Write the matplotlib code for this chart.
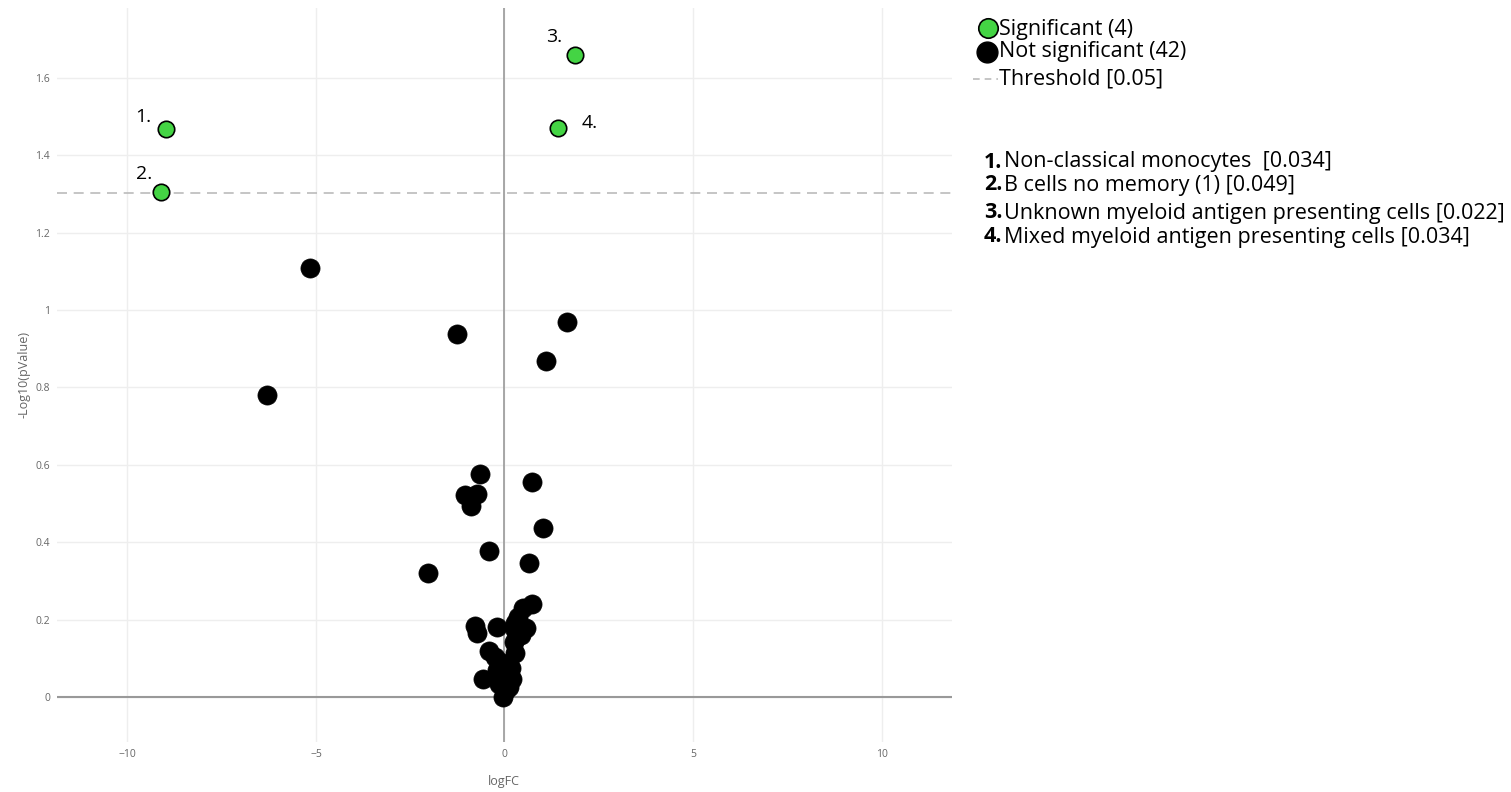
import numpy as np
import matplotlib
matplotlib.use("Agg")
import matplotlib.pyplot as plt
from matplotlib.lines import Line2D

plt.rcParams['font.family'] = ['Open Sans', 'DejaVu Sans']

# significant points (numbered)
sig_fc = [-8.97, -9.12, 1.88, 1.41]
sig_p = [1.468, 1.305, 1.659, 1.470]
sig_num = ['1.', '2.', '3.', '4.']
sig_names = ['Non-classical monocytes  [0.034]',
             'B cells no memory (1) [0.049]',
             'Unknown myeloid antigen presenting cells [0.022]',
             'Mixed myeloid antigen presenting cells [0.034]']
# label offsets in px (dx, dy up)
label_off = [(-23, 12), (-17, 18), (-21, 18), (32, 5)]

# not significant points
ns_fc = [-5.15, -6.31, -1.25, 1.67, 1.11, -0.64, -1.06, -0.72, -0.90, 0.72,
         1.01, -0.42, 0.66, -2.04, 0.74, 0.50, 0.37, -0.77, -0.74, -0.19,
         0.56, 0.29, 0.29, 0.24, 0.29, -0.40, -0.24, -0.11, 0.16, -0.06,
         -0.19, -0.56, 0.20, 0.03, -0.03, 0.03, -0.03, -0.11, 0.45, 0.05,
         -0.15, 0.12]
ns_p = [1.109, 0.780, 0.938, 0.969, 0.868, 0.576, 0.522, 0.525, 0.494, 0.556,
        0.437, 0.377, 0.346, 0.320, 0.240, 0.230, 0.207, 0.183, 0.165, 0.182,
        0.178, 0.192, 0.173, 0.143, 0.113, 0.119, 0.103, 0.090, 0.075, 0.070,
        0.070, 0.047, 0.047, 0.052, 0.031, 0.018, 0.001, 0.044, 0.160, 0.060,
        0.035, 0.025]

threshold = -np.log10(0.05)
green = '#44d444'
W, H = 1511, 792


def fx(px):
    return px / W


def fy(py):
    return 1 - py / H


fig = plt.figure(figsize=(15.11, 7.92), dpi=100)
ax = fig.add_axes([fx(57), fy(742), (952 - 57) / W, (742 - 8) / H])

ax.set_xlim(-11.87, 11.87)
ax.set_ylim(-0.116, 1.78)
ax.set_xticks([-10, -5, 0, 5, 10])
ax.set_xticklabels(['\u221210', '\u22125', '0', '5', '10'])
ax.set_yticks([0, 0.2, 0.4, 0.6, 0.8, 1, 1.2, 1.4, 1.6])
ax.set_yticklabels(['0', '0.2', '0.4', '0.6', '0.8', '1', '1.2', '1.4', '1.6'])
ax.grid(True, color='#eeeeee', linewidth=1)
ax.set_axisbelow(True)
for s in ax.spines.values():
    s.set_visible(False)
ax.tick_params(length=0, labelsize=7.5, labelcolor='#666666', pad=5)
ax.axhline(0, color='#999999', linewidth=1.5, zorder=1)
ax.axvline(0, color='#999999', linewidth=1.2, zorder=1)
ax.axhline(threshold, color='#bbbbbb', linewidth=1.2, dashes=(6, 4), zorder=1)

fig.text(fx(504), fy(781), 'logFC', fontsize=9, color='#666666', ha='center', va='center')
fig.text(fx(24), fy(375), '-Log10(pValue)', fontsize=9, color='#666666',
         ha='center', va='center', rotation=90)

ax.scatter(ns_fc, ns_p, s=190, color='black', edgecolor='black', linewidth=0.5, zorder=3)
ax.scatter(sig_fc, sig_p, s=140, color=green, edgecolor='black', linewidth=1.2, zorder=4)

for x, y, n, (dx, dy) in zip(sig_fc, sig_p, sig_num, label_off):
    ax.annotate(n, (x, y), xytext=(dx * 0.72, dy * 0.72), textcoords='offset points',
                ha='center', va='center', fontsize=14, color='black')

# legend, laid out by hand like the reference
fig.add_artist(Line2D([fx(988)], [fy(28)], transform=fig.transFigure, marker='o',
                      markersize=14, markerfacecolor=green, markeredgecolor='black',
                      markeredgewidth=1.2))
fig.add_artist(Line2D([fx(987)], [fy(52)], transform=fig.transFigure, marker='o',
                      markersize=15, markerfacecolor='black', markeredgecolor='black'))
fig.add_artist(Line2D([fx(973), fx(998)], [fy(79), fy(79)], transform=fig.transFigure,
                      color='#bbbbbb', linewidth=1.2, dashes=(4, 3)))
legend_labels = ['Significant (%d)' % len(sig_fc), 'Not significant (%d)' % len(ns_fc),
                 'Threshold [0.05]']
for lab, yp in zip(legend_labels, [30, 51, 79]):
    fig.text(fx(999), fy(yp), lab, fontsize=15.5, ha='left', va='center')

rows_y = [162, 185, 213, 237]
for n, name, yp in zip(sig_num, sig_names, rows_y):
    fig.text(fx(984), fy(yp), n, fontsize=15.5, fontweight='bold', ha='left', va='center')
    fig.text(fx(1004), fy(yp), name, fontsize=15.5, ha='left', va='center')

fig.savefig('out.png', dpi=100)
